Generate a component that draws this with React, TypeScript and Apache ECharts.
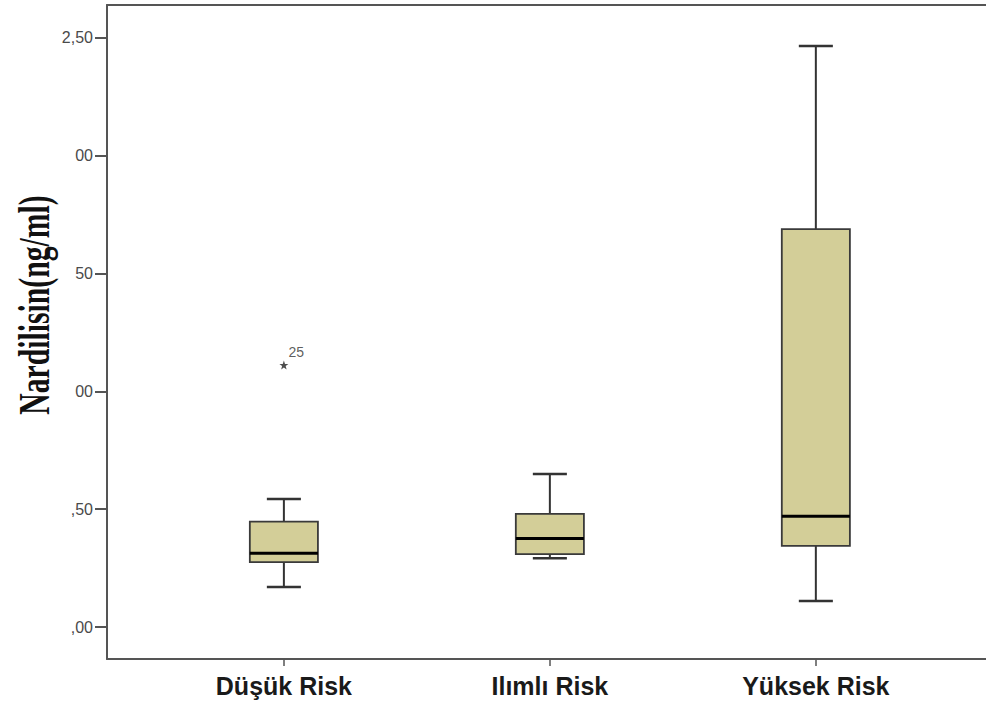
import React, { useEffect, useRef } from "react";
import * as echarts from "echarts";

const categories = ["Düşük Risk", "Ilımlı Risk", "Yüksek Risk"];
const lowerWhisker = [0.17, 0.292, 0.11];
const q1 = [0.275, 0.309, 0.344];
const median = [0.313, 0.376, 0.47];
const q3 = [0.447, 0.48, 1.689];
const upperWhisker = [0.543, 0.649, 2.466];
const outliers = [{ group: 1, value: 1.112, label: "25" }];
const yTickValues = [0, 0.5, 1, 1.5, 2, 2.5];
const yTickLabels = [",00", ",50", "00", "50", "00", "2,50"];
const yTitle = "Nardilisin(ng/ml)";

export default function App() {
  const ref = useRef<HTMLDivElement>(null);
  useEffect(() => {
    if (!ref.current) return;
    const chart = echarts.init(ref.current, null, { renderer: "svg" });
    const boxData = categories.map((_, i) => [
      i + 1,
      lowerWhisker[i],
      q1[i],
      median[i],
      q3[i],
      upperWhisker[i],
    ]);
    const axisColor = "#555";
    const xMin = 0.335;
    const xMax = 3.651;
    chart.setOption({
      animation: false,
      backgroundColor: "#fff",
      grid: {
        left: 107,
        top: 5,
        right: -3,
        bottom: 47,
        show: false,
        outerBoundsMode: "none",
      },
      xAxis: [
        {
          type: "value",
          min: xMin,
          max: xMax,
          splitLine: { show: false },
          axisLine: { show: true, onZero: false, lineStyle: { color: axisColor, width: 2 } },
          axisTick: {
            show: true,
            customValues: [1, 2, 3],
            length: 7,
            lineStyle: { color: axisColor, width: 1.5 },
          },
          axisLabel: {
            customValues: [1, 2, 3],
            formatter: (v: number) => categories[Math.round(v) - 1] ?? "",
            fontFamily: "Liberation Sans, Arial, sans-serif",
            fontWeight: "bold",
            fontSize: 25,
            color: "#1a1a1a",
            margin: 14,
          },
        },
        {
          type: "value",
          position: "top",
          min: xMin,
          max: xMax,
          splitLine: { show: false },
          axisLine: { show: true, onZero: false, lineStyle: { color: axisColor, width: 2 } },
          axisTick: { show: false },
          axisLabel: { show: false },
        },
      ],
      yAxis: {
        type: "value",
        min: -0.1358,
        max: 2.64,
        splitLine: { show: false },
        axisLine: { show: true, onZero: false, lineStyle: { color: axisColor, width: 2 } },
        axisTick: {
          show: true,
          customValues: yTickValues,
          length: 12,
          lineStyle: { color: axisColor, width: 2 },
        },
        axisLabel: {
          customValues: yTickValues,
          formatter: (v: number) => {
            const idx = yTickValues.findIndex((t) => Math.abs(t - v) < 1e-6);
            return idx >= 0 ? yTickLabels[idx] : "";
          },
          fontFamily: "Liberation Sans, Arial, sans-serif",
          fontSize: 16,
          color: "#4a4a4a",
          margin: 14,
        },
      },
      graphic: [
        {
          type: "text",
          x: 34,
          y: 305,
          rotation: Math.PI / 2,
          scaleX: 0.66,
          style: {
            text: yTitle,
            font: 'bold 45px "Liberation Serif", "Times New Roman", serif',
            fill: "#111",
            textAlign: "center",
            textVerticalAlign: "middle",
          },
        },
      ],
      series: [
        {
          type: "custom",
          xAxisIndex: 0,
          data: boxData,
          encode: { x: 0, y: [1, 2, 3, 4, 5] },
          renderItem: (params: any, api: any) => {
            const x = api.value(0);
            const pLo = api.coord([x, api.value(1)]);
            const pQ1 = api.coord([x, api.value(2)]);
            const pMed = api.coord([x, api.value(3)]);
            const pQ3 = api.coord([x, api.value(4)]);
            const pHi = api.coord([x, api.value(5)]);
            const bw = api.size([1, 0])[0] * 0.256;
            const hb = bw / 2;
            const hc = bw / 4;
            const cx = pMed[0];
            const whisk = { stroke: "#333", lineWidth: 2 };
            return {
              type: "group",
              children: [
                { type: "line", shape: { x1: cx, y1: pHi[1], x2: cx, y2: pQ3[1] }, style: whisk },
                { type: "line", shape: { x1: cx - hc, y1: pHi[1], x2: cx + hc, y2: pHi[1] }, style: { stroke: "#333", lineWidth: 2.5 } },
                { type: "line", shape: { x1: cx, y1: pQ1[1], x2: cx, y2: pLo[1] }, style: whisk },
                { type: "line", shape: { x1: cx - hc, y1: pLo[1], x2: cx + hc, y2: pLo[1] }, style: { stroke: "#333", lineWidth: 2.5 } },
                {
                  type: "rect",
                  shape: { x: cx - hb, y: pQ3[1], width: bw, height: pQ1[1] - pQ3[1] },
                  style: { fill: "#d3ce98", stroke: "#3a3a3a", lineWidth: 1.8 },
                },
                { type: "line", shape: { x1: cx - hb, y1: pMed[1], x2: cx + hb, y2: pMed[1] }, style: { stroke: "#000", lineWidth: 3 } },
              ],
            };
          },
        },
        {
          type: "scatter",
          xAxisIndex: 0,
          data: outliers.map((o) => [o.group, o.value, o.label]),
          symbol:
            "path://M0,-5 L1.2,-1.6 L4.8,-1.5 L1.9,0.6 L2.9,4 L0,2 L-2.9,4 L-1.9,0.6 L-4.8,-1.5 L-1.2,-1.6 Z",
          symbolSize: 9,
          itemStyle: { color: "#222" },
          label: {
            show: true,
            position: [9, -16],
            align: "left",
            verticalAlign: "top",
            formatter: (p: any) => p.data[2],
            fontFamily: "Liberation Sans, Arial, sans-serif",
            fontSize: 14,
            color: "#333",
          },
        },
      ],
    });
    return () => chart.dispose();
  }, []);
  return (
    <div
      ref={ref}
      style={{ position: "fixed", left: 0, top: 0, width: 986, height: 706, background: "#fff", overflow: "hidden" }}
    />
  );
}
